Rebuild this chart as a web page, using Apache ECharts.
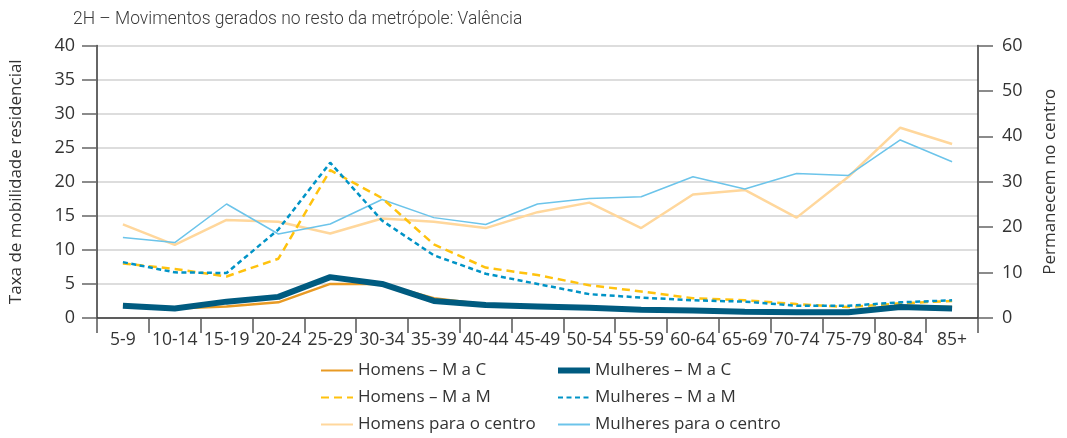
<!doctype html>
<html>
	<head>
		<meta charset="UTF-8">
		<title>2H – Movimentos gerados no resto da metrópole: Valência</title>
		<script src="https://cdn.jsdelivr.net/npm/echarts@6/dist/echarts.min.js"></script>
		<style>
			html, body { margin: 0; padding: 0; background: #fff; }
			#chart { width: 1067px; height: 438px; }
		</style>
	</head>
	<body>
		<div id="chart"></div>
		<script type="text/javascript">
			// faixas etárias
			var categories = ['5-9', '10-14', '15-19', '20-24', '25-29', '30-34', '35-39', '40-44', '45-49',
				'50-54', '55-59', '60-64', '65-69', '70-74', '75-79', '80-84', '85+'];

			// eixo da esquerda (taxa de mobilidade residencial)
			var homensMaC = [2.0, 1.4, 1.7, 2.3, 5.0, 5.0, 2.9, 2.0, 1.8, 1.6, 1.3, 1.2, 1.0, 0.9, 0.9, 1.8, 1.6];
			var mulheresMaC = [1.8, 1.4, 2.4, 3.1, 6.0, 5.0, 2.5, 1.9, 1.7, 1.5, 1.2, 1.1, 0.9, 0.85, 0.85, 1.6, 1.4];
			var homensMaM = [8.0, 7.2, 6.1, 8.7, 21.7, 17.6, 10.8, 7.4, 6.3, 4.8, 3.9, 2.9, 2.6, 2.05, 1.6, 2.15, 2.5];
			var mulheresMaM = [8.2, 6.7, 6.6, 13.0, 22.8, 14.3, 9.2, 6.5, 5.0, 3.5, 3.0, 2.6, 2.4, 1.8, 1.8, 2.3, 2.6];

			// eixo da direita (permanecem no centro)
			var homensCentro = [20.6, 16.1, 21.6, 21.2, 18.6, 21.9, 21.2, 19.8, 23.3, 25.4, 19.8, 27.2, 28.2, 22.1, 31.1, 41.9, 38.3];
			var mulheresCentro = [17.7, 16.6, 25.1, 18.5, 20.7, 26.1, 22.1, 20.6, 25.1, 26.3, 26.7, 31.1, 28.4, 31.8, 31.4, 39.2, 34.4];

			var fonte = '"Open Sans", "Noto Sans", sans-serif';
			var corTexto = '#333333';

			var myChart = echarts.init(document.getElementById('chart'));

			function serie(nome, dados, cor, largura, tipo, eixo, z) {
				return {
					name: nome,
					type: 'line',
					yAxisIndex: eixo,
					data: dados,
					symbol: 'none',
					smooth: false,
					z: z,
					lineStyle: {
						color: cor,
						width: largura,
						type: tipo
					},
					itemStyle: { color: cor }
				};
			}

			function legenda(esquerda, nomes) {
				return {
					orient: 'vertical',
					left: esquerda,
					top: 357,
					height: 84,
					itemWidth: 32,
					itemHeight: 14,
					itemGap: 10,
					itemStyle: { color: 'rgba(0,0,0,0)', borderWidth: 0 },
					textStyle: { fontFamily: fonte, fontSize: 17, lineHeight: 14, color: corTexto },
					data: nomes
				};
			}

			var option = {
				animation: false,
				backgroundColor: '#ffffff',
				title: {
					text: '2H – Movimentos gerados no resto da metrópole: Valência',
					left: 68,
					top: 6,
					textStyle: {
						fontFamily: 'Roboto, sans-serif',
						fontWeight: 300,
						fontSize: 17.5,
						color: '#3a3a3a'
					}
				},
				legend: [
					legenda(315, ['Homens – M a C', 'Homens – M a M', 'Homens para o centro']),
					legenda(550, [
						{ name: 'Mulheres – M a C', lineStyle: { width: 6 } },
						'Mulheres – M a M',
						'Mulheres para o centro'
					])
				],
				grid: {
					left: 96,
					right: 77,
					top: 45.5,
					bottom: 120,
					containLabel: false
				},
				xAxis: [{
					type: 'category',
					boundaryGap: true,
					data: categories,
					axisLine: { show: true, lineStyle: { color: '#333', width: 1.5 } },
					axisTick: { show: true, interval: 0, length: 15, lineStyle: { color: '#555', width: 1.5 } },
					axisLabel: { interval: 0, margin: 13, fontFamily: fonte, fontSize: 17.5, color: corTexto },
					splitLine: { show: false }
				}],
				yAxis: [{
					type: 'value',
					min: 0,
					max: 40,
					interval: 5,
					name: 'Taxa de mobilidade residencial',
					nameLocation: 'middle',
					nameRotate: 90,
					nameGap: 72,
					nameTextStyle: { fontFamily: fonte, fontSize: 17, color: corTexto },
					axisLine: { show: true, lineStyle: { color: '#333', width: 1.5 } },
					axisTick: { show: true, length: 15, lineStyle: { color: '#666', width: 1.5 } },
					axisLabel: { margin: 22, fontFamily: fonte, fontSize: 18, color: corTexto },
					splitLine: { show: true, lineStyle: { color: '#d2d2d2', width: 1.5 } }
				}, {
					type: 'value',
					position: 'right',
					min: 0,
					max: 60,
					interval: 10,
					name: 'Permanecem no centro',
					nameLocation: 'middle',
					nameRotate: 90,
					nameGap: 64,
					nameTextStyle: { fontFamily: fonte, fontSize: 17, color: corTexto },
					axisLine: { show: true, lineStyle: { color: '#333', width: 1.5 } },
					axisTick: { show: true, length: 15, lineStyle: { color: '#666', width: 1.5 } },
					axisLabel: { margin: 24, fontFamily: fonte, fontSize: 18, color: corTexto },
					splitLine: { show: false }
				}],
				series: [
					serie('Homens para o centro', homensCentro, '#FFD79C', 2.5, 'solid', 1, 2),
					serie('Mulheres para o centro', mulheresCentro, '#6CC4EA', 1.5, 'solid', 1, 3),
					serie('Homens – M a M', homensMaM, '#FFC20E', 2.5, [8, 5], 0, 4),
					serie('Mulheres – M a M', mulheresMaM, '#0093C6', 2.5, [5, 3.5], 0, 5),
					serie('Homens – M a C', homensMaC, '#E89A24', 2.5, 'solid', 0, 6),
					serie('Mulheres – M a C', mulheresMaC, '#005B80', 6, 'solid', 0, 7)
				]
			};

			myChart.setOption(option);
		</script>
	</body>
</html>
